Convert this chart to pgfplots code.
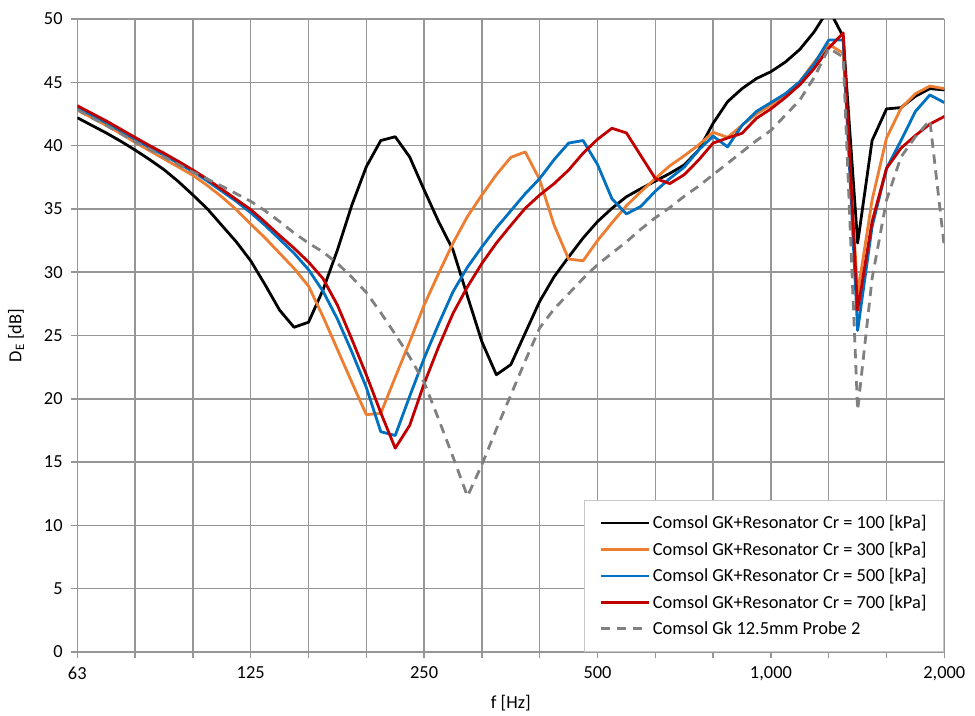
\documentclass[border=0pt]{standalone}
\usepackage{fontspec}
\setmainfont{Carlito}
\usepackage{pgfplots}
\pgfplotsset{compat=1.18}
\usepackage{pgfplotstable}
\definecolor{cOrange}{RGB}{237,125,49}
\definecolor{cBlue}{RGB}{0,112,192}
\definecolor{cRed}{RGB}{192,0,0}
\definecolor{cGray}{RGB}{128,128,128}
\definecolor{cGrid}{RGB}{150,150,150}
\definecolor{cLeg}{RGB}{200,200,200}

\pgfplotstableread{
f       a      b      c      d      g
62.5    42.2   42.8   43.0   43.15  42.85
66.22   41.6   42.2   42.4   42.55  42.2
70.15   41.0   41.6   41.8   41.95  41.6
74.33   40.35  40.95  41.15  41.3   40.95
78.75   39.65  40.26  40.5   40.65  40.3
83.43   38.9   39.6   39.85  40.0   39.7
88.39   38.1   38.95  39.25  39.4   39.1
93.65   37.15  38.3   38.6   38.75  38.5
99.21   36.1   37.65  37.95  38.07  37.9
105.11  35.0   36.85  37.2   37.35  37.35
111.36  33.7   35.95  36.4   36.55  36.8
117.98  32.4   34.95  35.6   35.75  36.2
125     30.9   33.8   34.7   34.95  35.6
132.43  29.0   32.7   33.7   33.95  34.85
140.31  27.0   31.5   32.6   32.9   34.0
148.65  25.65  30.3   31.5   31.9   33.1
157.49  26.05  28.9   30.2   30.8   32.3
166.86  28.6   26.5   28.5   29.5   31.6
176.78  31.75  23.9   26.3   27.4   30.7
187.29  35.3   21.3   23.7   24.7   29.6
198.43  38.33  18.75  20.9   21.9   28.4
210.22  40.4   18.85  17.4   18.9   26.8
222.72  40.7   21.7   17.1   16.1   25.1
235.97  39.1   24.5   20.2   17.9   23.3
250     36.5   27.4   23.2   21.2   21.3
264.87  34.0   29.9   25.9   24.1   18.4
280.62  31.75  32.3   28.46  26.75  15.4
297.30  28.1   34.4   30.4   28.85  12.3
314.98  24.5   36.1   32.0   30.7   14.8
333.71  21.9   37.7   33.5   32.3   17.6
353.55  22.7   39.07  34.85  33.7   20.3
374.58  25.2   39.5   36.2   35.05  23.0
396.85  27.7   37.3   37.4   36.1   25.6
420.45  29.65  33.7   38.9   37.0   27.1
445.45  31.2   31.04  40.2   38.07  28.3
471.94  32.7   30.9   40.4   39.4   29.5
500     34.0   32.5   38.5   40.5   30.6
529.73  35.05  33.9   35.8   41.37  31.5
561.23  35.96  35.25  34.6   41.0   32.4
594.60  36.6   36.36  35.2   39.2   33.4
629.96  37.2   37.4   36.4   37.4   34.3
667.42  37.8   38.4   37.4   37.0   35.1
707.11  38.47  39.2   38.3   37.7   36.0
749.15  39.65  40.05  39.65  38.86  36.8
793.70  41.76  41.05  40.75  40.2   37.7
840.90  43.47  40.65  39.9   40.6   38.6
890.90  44.5   41.6   41.6   40.97  39.5
943.87  45.3   42.5   42.7   42.16  40.4
1000    45.84  43.2   43.4   42.9   41.2
1059.46 46.6   44.05  44.1   43.8   42.4
1122.46 47.6   45.05  45.05  44.8   43.6
1189.21 49.0   46.6   46.45  46.1   45.4
1259.92 50.8   48.0   48.34  47.7   47.7
1334.84 48.6   47.3   48.34  48.9   47.0
1414.21 32.3   28.3   25.4   27.0   19.1
1498.31 40.4   35.7   33.6   34.0   29.5
1587.40 42.9   40.6   38.2   38.2   35.7
1681.79 43.0   42.95  40.4   39.8   39.1
1781.80 43.9   44.1   42.7   40.8   40.7
1887.75 44.5   44.7   44.0   41.7   42.0
2000    44.4   44.5   43.4   42.3   32.0
}\data

\begin{document}
\begin{tikzpicture}
\useasboundingbox (0,0) rectangle (731.25pt,536.25pt);
\begin{axis}[
  at={(57.98pt,47.25pt)}, anchor=south west,
  scale only axis, width=650.25pt, height=474.75pt,
  xmode=log, xmin=62.5, xmax=2000, ymin=0, ymax=50,
  xtick={62.5,78.75,99.21,125,157.49,198.43,250,314.98,396.85,500,629.96,793.70,1000,1259.92,1587.40,2000},
  xticklabels={63,,,125,,,250,,,500,,,{1,000},,,{2,000}},
  ytick={0,5,...,50},
  grid=major, major grid style={cGrid, line width=1.1pt},
  axis x line*=bottom, axis y line*=left,
  x axis line style={-, cGrid, line width=1.4pt},
  y axis line style={-, cGrid, line width=1.1pt},
  tick style={cGrid, line width=1.1pt},
  tick align=outside, major tick length=4.5pt,
  font=\fontsize{13.8}{16}\selectfont,
  /pgf/number format/assume math mode=true,
  xticklabel style={yshift=-3pt},
  yticklabel style={xshift=-3pt},
  xlabel={f [Hz]}, ylabel={D\textsubscript{E} [dB]},
  xlabel style={yshift=-4pt},
  ylabel style={yshift=8pt},
  legend cell align=left,
  legend style={at={(1,0)}, anchor=south east, draw=cLeg, line width=0.8pt, fill=white,
    font=\fontsize{13.8}{16}\selectfont, row sep=4.4pt, inner xsep=11pt, inner ysep=9.5pt},
  legend image code/.code={\draw[#1] (0pt,0pt) -- (36pt,0pt);},
  every axis plot/.append style={line width=2.1pt, line join=round},
]
\addplot[black] table[x=f,y=a] {\data};
\addlegendentry{Comsol GK+Resonator Cr = 100 [kPa]}
\addplot[cOrange] table[x=f,y=b] {\data};
\addlegendentry{Comsol GK+Resonator Cr = 300 [kPa]}
\addplot[cBlue] table[x=f,y=c] {\data};
\addlegendentry{Comsol GK+Resonator Cr = 500 [kPa]}
\addplot[cRed] table[x=f,y=d] {\data};
\addlegendentry{Comsol GK+Resonator Cr = 700 [kPa]}
\addplot[cGray, dash pattern=on 7pt off 5pt] table[x=f,y=g] {\data};
\addlegendentry{Comsol Gk 12.5mm Probe 2}
\end{axis}
\end{tikzpicture}
\end{document}
